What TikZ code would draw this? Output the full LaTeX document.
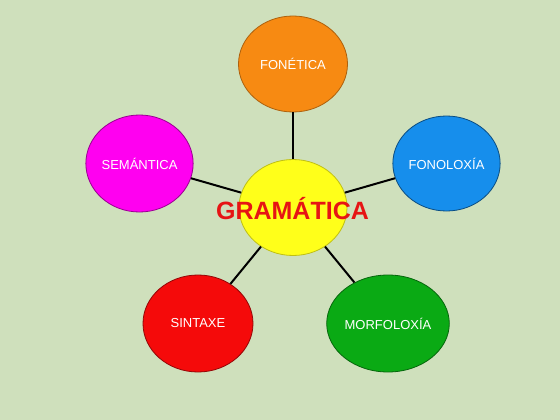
\documentclass[tikz,border=0pt]{standalone}
\usepackage{fontspec}
\setmainfont{Liberation Sans}
\usetikzlibrary{shapes.geometric}
\definecolor{bg}{RGB}{207,224,188}
\definecolor{cyellow}{RGB}{255,255,26}
\definecolor{corange}{RGB}{247,138,18}
\definecolor{cmagenta}{RGB}{255,0,240}
\definecolor{cblue}{RGB}{22,142,236}
\definecolor{cred}{RGB}{245,10,10}
\definecolor{cgreen}{RGB}{10,170,20}
\definecolor{ctitle}{RGB}{230,20,20}
\begin{document}
\begin{tikzpicture}[x=1pt,y=-1pt,
  bubble/.style={ellipse, minimum width=108pt, minimum height=96pt, inner sep=0pt,
    line width=0.8pt, text=white, font=\fontsize{13}{15}\selectfont},
  link/.style={line width=2pt, black}]
\fill[bg] (0,0) rectangle (560,420);
\useasboundingbox (0,0) rectangle (560,420);
\node[bubble, fill=cyellow, draw=cyellow!75!black] (gram) at (293,207.5) {};
\node[bubble, fill=corange, draw=corange!70!black, minimum width=109pt] (fonet) at (293,64) {FONÉTICA};
\node[bubble, fill=cmagenta, draw=cmagenta!60!black, minimum width=107pt, minimum height=97pt] (seman) at (139.5,163.5) {SEMÁNTICA};
\node[bubble, fill=cblue, draw=cblue!55!black, minimum width=107pt, minimum height=95pt] (fonol) at (446.5,163.5) {FONOLOXÍA};
\node[bubble, fill=cred, draw=cred!60!black, minimum width=110pt, minimum height=97pt] (sint) at (198,323.5) {SINTAXE};
\node[bubble, fill=cgreen, draw=cgreen!60!black, minimum width=110pt, minimum height=97pt] (morf) at (388,323.5) {MORFOLOXÍA};
\draw[link] (gram) -- (fonet);
\draw[link] (gram) -- (seman);
\draw[link] (gram) -- (fonol);
\draw[link] (gram) -- (sint);
\draw[link] (gram) -- (morf);
\node[text=ctitle, font=\bfseries\fontsize{25}{28}\selectfont] (title) at (292.5,209) {GRAMÁTICA};
\end{tikzpicture}
\end{document}
